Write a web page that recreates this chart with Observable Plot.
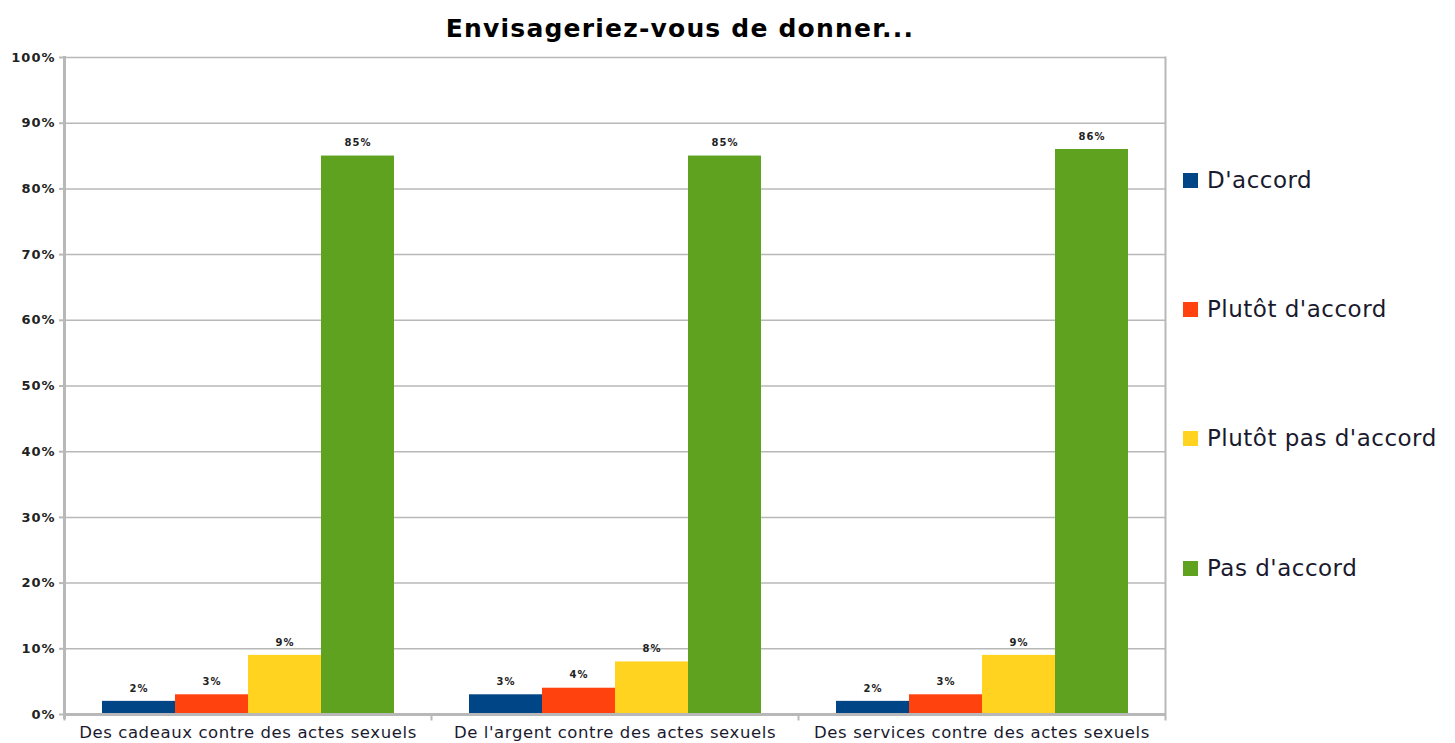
<!DOCTYPE html>
<html><head><meta charset="utf-8">
<script src="https://cdn.jsdelivr.net/npm/d3@7"></script>
<script src="https://cdn.jsdelivr.net/npm/@observablehq/plot@0.6"></script>
<style>
body{margin:0;background:#fff;font-family:"DejaVu Sans",sans-serif;}
#wrap{position:relative;width:1455px;height:743px;}
#title{position:absolute;left:0;top:14px;width:1360px;text-align:center;font-weight:bold;font-size:25px;color:#000;letter-spacing:1.2px;}
#chart{position:absolute;left:0;top:45px;}
#legend{position:absolute;left:1183px;top:0;}
.li{position:absolute;left:0;white-space:nowrap;font-size:23px;letter-spacing:0.5px;color:#1a1a2e;display:flex;align-items:center;}
.sw{width:15px;height:15px;margin-right:9px;display:inline-block;}
</style></head>
<body><div id="wrap"><div id="title">Envisageriez-vous de donner...</div><div id="chart"></div><div id="legend"></div></div>
<script>
const categories = ["Des cadeaux contre des actes sexuels", "De l'argent contre des actes sexuels", "Des services contre des actes sexuels"];
const series = ["D'accord", "Plutôt d'accord", "Plutôt pas d'accord", "Pas d'accord"];
const valuesAccord = [2, 3, 2];
const valuesPlutotAccord = [3, 4, 3];
const valuesPlutotPas = [9, 8, 9];
const valuesPas = [85, 85, 86];
const colors = ["#004586", "#ff420e", "#ffd320", "#5ea220"];
const yTicks = [0, 10, 20, 30, 40, 50, 60, 70, 80, 90, 100];

const seriesValues = [valuesAccord, valuesPlutotAccord, valuesPlutotPas, valuesPas];
const data = [];
categories.forEach((c, ci) => series.forEach((s, si) => data.push({category: c, series: s, value: seriesValues[si][ci]})));

const grid = "#b8b8b8";
const chart = Plot.plot({
  width: 1170, height: 698,
  marginLeft: 64, marginRight: 5, marginTop: 12, marginBottom: 29,
  style: {fontFamily: "DejaVu Sans, sans-serif", background: "#fff"},
  fx: {domain: categories, padding: 0, label: null, axis: null},
  x: {domain: series, paddingInner: 0, paddingOuter: 0.5, axis: null},
  y: {domain: [0, 100], axis: null},
  color: {domain: series, range: colors},
  marks: [
    Plot.ruleY(yTicks, {stroke: grid, strokeWidth: 1.5}),
    Plot.frame({anchor: "right", stroke: grid, strokeWidth: 2, insetBottom: -5, fx: () => categories[2]}),
    Plot.frame({anchor: "left", stroke: grid, strokeWidth: 2, insetTop: 657, insetBottom: -5}),
    Plot.barY(data, {fx: "category", x: "series", y: "value", fill: "series"}),
    Plot.text(data, {fx: "category", x: "series", y: "value", text: d => d.value + "%", dy: -13, fontSize: 10, fontWeight: "bold", fill: "#222", style: "letter-spacing:1px"}),
    Plot.ruleY([0], {stroke: grid, strokeWidth: 3}),
    Plot.frame({anchor: "left", stroke: grid, strokeWidth: 3, insetBottom: -3, fx: () => categories[0]}),
    Plot.axisY({ticks: yTicks, tickFormat: d => d + "%", tickSize: 5, stroke: grid, strokeWidth: 2, tickPadding: 4, fontSize: 13, fontWeight: "bold", fill: "#222", label: null}),
    Plot.axisFx({anchor: "bottom", tickSize: 0, tickPadding: 12, fontSize: 16.5, fill: "#1a1a2e", label: null})
  ]
});
document.getElementById("chart").appendChild(chart);
chart.querySelectorAll("[aria-label='y-axis tick label'] text").forEach(t => t.setAttribute("letter-spacing", "1"));
chart.querySelectorAll("[aria-label='fx-axis tick label'] text").forEach(t => t.setAttribute("letter-spacing", "0.6"));
chart.querySelectorAll("[aria-label='text'] text").forEach(t => t.setAttribute("letter-spacing", "1"));

const legendTops = [167, 296, 425, 555];
const legend = document.getElementById("legend");
series.forEach((s, i) => {
  const d = document.createElement("div");
  d.className = "li";
  d.style.top = legendTops[i] + "px";
  d.innerHTML = `<span class="sw" style="background:${colors[i]}"></span><span></span>`;
  d.lastChild.textContent = s;
  legend.appendChild(d);
});
</script></body></html>
